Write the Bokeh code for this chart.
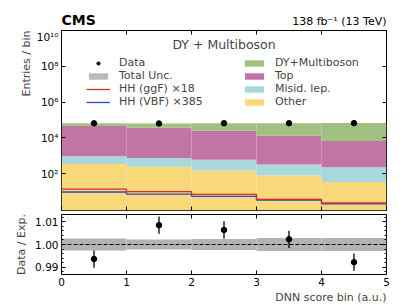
import numpy as np
from bokeh.plotting import figure
from bokeh.layouts import column, row
from bokeh.models import (Range1d, FixedTicker, LogAxis, LinearAxis, Legend, LegendItem,
                          Label, Title, CustomJSTickFormatter, NumeralTickFormatter, Span)
from bokeh.embed import file_html
from bokeh.resources import INLINE

# ---------------- data ----------------
bin_edges = [0, 1, 2, 3, 4, 5]
other = [350, 245, 153, 81, 35]
misid_lep = [610, 525, 447, 249, 200]
top_bkg = [45000, 36000, 25400, 13200, 6600]
dy_multiboson = [20000, 27000, 40000, 53000, 61000]
data_counts = [65500, 64300, 66400, 66700, 67300]
hh_ggf_x18 = [14, 10, 7, 3.7, 2.4]
hh_vbf_x385 = [9.6, 7.4, 5.5, 3.4, 2.1]
ratio = [0.9936, 1.0085, 1.0064, 1.0023, 0.9922]
ratio_err = [0.0038, 0.0038, 0.0038, 0.0038, 0.0038]
unc_rel = [0.0026, 0.0022, 0.0024, 0.0029, 0.0029]
main_yticks = [1e2, 1e4, 1e6, 1e8, 1e10]
ratio_yticks = [0.99, 1.00, 1.01]

FONT = "DejaVu Sans"
C_DY = "#a0c180"
C_TOP = "#c075a5"
C_MISID = "#a8d8dc"
C_OTHER = "#f8d878"
C_RED = "#d62d20"
C_BLUE = "#2445d8"

left = np.array(bin_edges[:-1], dtype=float)
right = np.array(bin_edges[1:], dtype=float)
centers = (left + right) / 2

c1 = np.array(other, dtype=float)
c2 = c1 + np.array(misid_lep)
c3 = c2 + np.array(top_bkg)
c4 = c3 + np.array(dy_multiboson)


def style_axis(ax, show_labels=True, minor=False):
    ax.major_tick_in = 4
    ax.major_tick_out = 0
    ax.minor_tick_in = 2 if minor else 0
    ax.minor_tick_out = 0
    ax.axis_line_color = None
    ax.major_tick_line_color = "black"
    ax.minor_tick_line_color = "black"
    ax.major_label_text_font = FONT
    ax.major_label_text_color = "black"
    if show_labels:
        ax.major_label_text_font_size = "10.5px"
        ax.major_label_standoff = 3
    else:
        ax.major_label_text_font_size = "1px"
        ax.major_label_text_color = None
        ax.major_label_standoff = 0


def header_fig(width, text, align, size, style, bl, br):
    f = figure(width=width, height=30, x_range=Range1d(0, 1), y_range=Range1d(0, 1),
               title=None, output_backend="svg", toolbar_location=None,
               x_axis_location=None, y_axis_location=None,
               min_border_left=bl, min_border_right=br, min_border_top=28, min_border_bottom=0)
    f.xgrid.visible = False
    f.ygrid.visible = False
    f.outline_line_color = None
    f.add_layout(Title(text=text, align=align, text_font=FONT, text_font_size=size,
                       text_font_style=style, text_color="black", standoff=1), "above")
    return f


# ---------------- header (CMS / lumi) ----------------
h_left = header_fig(230, "CMS", "left", "14px", "bold", 61, 0)
h_right = header_fig(170, "138 fb\u207b\u00b9 (13 TeV)", "right", "11px", "normal", 0, 14)

# ---------------- main panel ----------------
p = figure(width=400, height=182, y_axis_type="log",
           x_range=Range1d(0, 5), y_range=Range1d(10 ** -0.05, 1e10),
           output_backend="svg", toolbar_location=None,
           min_border_left=61, min_border_right=14, min_border_top=0, min_border_bottom=2)
p.xgrid.visible = False
p.ygrid.visible = False
p.outline_line_color = "black"
p.outline_line_width = 1
p.background_fill_color = "white"
p.border_fill_color = "white"

sup = CustomJSTickFormatter(code="""
const s = {'0':'\u2070','1':'\u00b9','2':'\u00b2','3':'\u00b3','4':'\u2074','5':'\u2075','6':'\u2076','7':'\u2077','8':'\u2078','9':'\u2079','-':'\u207b'};
const e = Math.round(Math.log10(tick));
return '10' + String(e).split('').map(c => s[c]).join('');
""")

p.yaxis.ticker = FixedTicker(ticks=main_yticks)
p.yaxis.formatter = sup
style_axis(p.yaxis[0])
p.xaxis.ticker = FixedTicker(ticks=bin_edges)
style_axis(p.xaxis[0], show_labels=False)

ax_r = LogAxis(ticker=FixedTicker(ticks=main_yticks))
style_axis(ax_r, show_labels=False)
p.add_layout(ax_r, "right")
ax_t = LinearAxis(ticker=FixedTicker(ticks=bin_edges))
style_axis(ax_t, show_labels=False)
p.add_layout(ax_t, "above")

bottom0 = np.full(5, 10 ** -0.05)
r_other = p.quad(left=left, right=right, bottom=bottom0, top=c1, fill_color=C_OTHER, line_color=None)
r_misid = p.quad(left=left, right=right, bottom=c1, top=c2, fill_color=C_MISID, line_color=None)
r_top = p.quad(left=left, right=right, bottom=c2, top=c3, fill_color=C_TOP, line_color=None)
r_dy = p.quad(left=left, right=right, bottom=c3, top=c4, fill_color=C_DY, line_color=None)
r_unc = p.quad(left=left, right=right, bottom=c4 * (1 - np.array(unc_rel)), top=c4 * (1 + np.array(unc_rel)),
               fill_color="#a8a8a8", fill_alpha=0.8, line_color=None)

step_x = list(bin_edges)
r_vbf = p.step(x=step_x, y=list(hh_vbf_x385) + [hh_vbf_x385[-1]], mode="after",
               line_color=C_BLUE, line_width=1.3)
r_ggf = p.step(x=step_x, y=list(hh_ggf_x18) + [hh_ggf_x18[-1]], mode="after",
               line_color=C_RED, line_width=1.3)

data_err = np.sqrt(np.array(data_counts, dtype=float))
r_derr = p.segment(x0=centers, x1=centers, y0=np.array(data_counts) - data_err,
                   y1=np.array(data_counts) + data_err, line_color="black", line_width=1.3)
r_data = p.scatter(x=centers, y=data_counts, marker="circle", size=5.5,
                   fill_color="black", line_color="black")
r_data_leg = p.scatter(x=[], y=[], marker="dash", angle=np.pi / 2, size=13,
                       line_color="black", line_width=1.3)

leg_common = dict(border_line_color=None, background_fill_alpha=0, label_text_font=FONT,
                  label_text_font_size="11px", label_height=12, glyph_height=8, glyph_width=24,
                  spacing=0, padding=0, margin=0, label_standoff=9, orientation="vertical")
leg1 = Legend(items=[LegendItem(label="Data", renderers=[r_data_leg, r_data]),
                     LegendItem(label="Total Unc.", renderers=[r_unc]),
                     LegendItem(label="HH (ggF) \u00d718", renderers=[r_ggf]),
                     LegendItem(label="HH (VBF) \u00d7385", renderers=[r_vbf])],
              location=(25, 102), **leg_common)
leg2 = Legend(items=[LegendItem(label="DY+Multiboson", renderers=[r_dy]),
                     LegendItem(label="Top", renderers=[r_top]),
                     LegendItem(label="Misid. lep.", renderers=[r_misid]),
                     LegendItem(label="Other", renderers=[r_other])],
              location=(181, 102), **leg_common)
p.add_layout(leg1, "center")
p.add_layout(leg2, "center")

p.add_layout(Label(x=2.5, y=10 ** 9.2, text="DY + Multiboson", text_align="center",
                   text_baseline="middle", text_font=FONT, text_font_size="12.5px"))
p.add_layout(Title(text="Entries / bin", align="right", text_font=FONT, text_font_size="11px",
                   text_font_style="normal", standoff=2), "left")

# ---------------- ratio panel ----------------
q = figure(width=400, height=91, x_range=p.x_range, y_range=Range1d(0.9868, 1.0132),
           output_backend="svg", toolbar_location=None,
           min_border_left=61, min_border_right=14, min_border_top=2, min_border_bottom=29)
q.xgrid.visible = False
q.ygrid.visible = False
q.outline_line_color = "black"
q.outline_line_width = 1

minor_r = list(np.round(np.arange(0.986, 1.014, 0.002), 3))
q.xaxis.ticker = FixedTicker(ticks=bin_edges)
style_axis(q.xaxis[0])
q.yaxis.ticker = FixedTicker(ticks=ratio_yticks, minor_ticks=minor_r)
q.yaxis.formatter = NumeralTickFormatter(format="0.00")
style_axis(q.yaxis[0], minor=True)
q.yaxis.axis_label = "Data / Exp."
q.yaxis.axis_label_text_font = FONT
q.yaxis.axis_label_text_font_size = "11px"
q.yaxis.axis_label_text_font_style = "normal"
q.yaxis.axis_label_standoff = 4

qr = LinearAxis(ticker=FixedTicker(ticks=ratio_yticks, minor_ticks=minor_r))
style_axis(qr, show_labels=False, minor=True)
q.add_layout(qr, "right")
qt = LinearAxis(ticker=FixedTicker(ticks=bin_edges))
style_axis(qt, show_labels=False)
q.add_layout(qt, "above")

q.quad(left=left, right=right, bottom=1 - np.array(unc_rel), top=1 + np.array(unc_rel),
       fill_color="#b3b3b3", line_color=None)
q.add_layout(Span(location=1.0, dimension="width", line_dash="4 2", line_color="black", line_width=1))
q.segment(x0=centers, x1=centers, y0=np.array(ratio) - np.array(ratio_err),
          y1=np.array(ratio) + np.array(ratio_err), line_color="black", line_width=1.3)
q.scatter(x=centers, y=ratio, marker="circle", size=5.5, fill_color="black", line_color="black")
q.add_layout(Title(text="DNN score bin (a.u.)", align="right", text_font=FONT, text_font_size="11px",
                   text_font_style="normal", standoff=0), "below")

layout = column(row(h_left, h_right, spacing=0), p, q, spacing=0)
open("out.html", "w").write(file_html(layout, INLINE))
